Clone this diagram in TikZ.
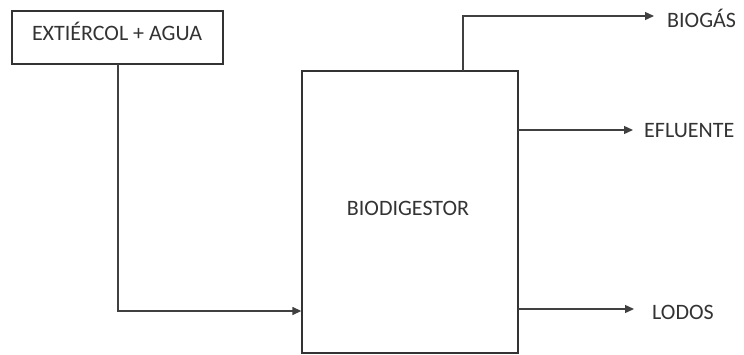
\documentclass[tikz,border=0pt]{standalone}
\usepackage{fontspec}
\setmainfont{Carlito}
\usetikzlibrary{arrows.meta}
\begin{document}
\begin{tikzpicture}[x=1pt,y=-1pt,
  box/.style={draw=black!80,line width=1.3pt,inner sep=0pt},
  txt/.style={font=\fontsize{22}{26}\selectfont,text=black!80,inner sep=0pt},
  lbl/.style={txt,anchor=west},
  conn/.style={draw=black!75,line width=1.3pt,-{Triangle[length=9pt,width=8pt]}}]
\useasboundingbox (0,0) rectangle (744,354);
\node[box,minimum width=211pt,minimum height=53pt] (in) at (117.5,37.5) {};
\node[txt] (intxt) at (117,31) {EXTIÉRCOL + AGUA};
\node[box,minimum width=216pt,minimum height=282pt] (bd) at (410,212) {};
\node[txt] (bdtxt) at (408,208) {BIODIGESTOR};
\coordinate (c1) at (118,311);
\coordinate (c2) at (463,16);
\node[lbl] (bio) at (667,18) {BIOGÁS};
\node[lbl] (efl) at (644,131) {EFLUENTE};
\node[lbl] (lod) at (652,312) {LODOS};
\draw[conn] (118,64) -- (c1) -- (bd.west |- c1);
\draw[conn] (463,71) -- (c2) -- (654,16);
\draw[conn] (518,130) -- (633,130);
\draw[conn] (518,309) -- (634,309);
\end{tikzpicture}
\end{document}
